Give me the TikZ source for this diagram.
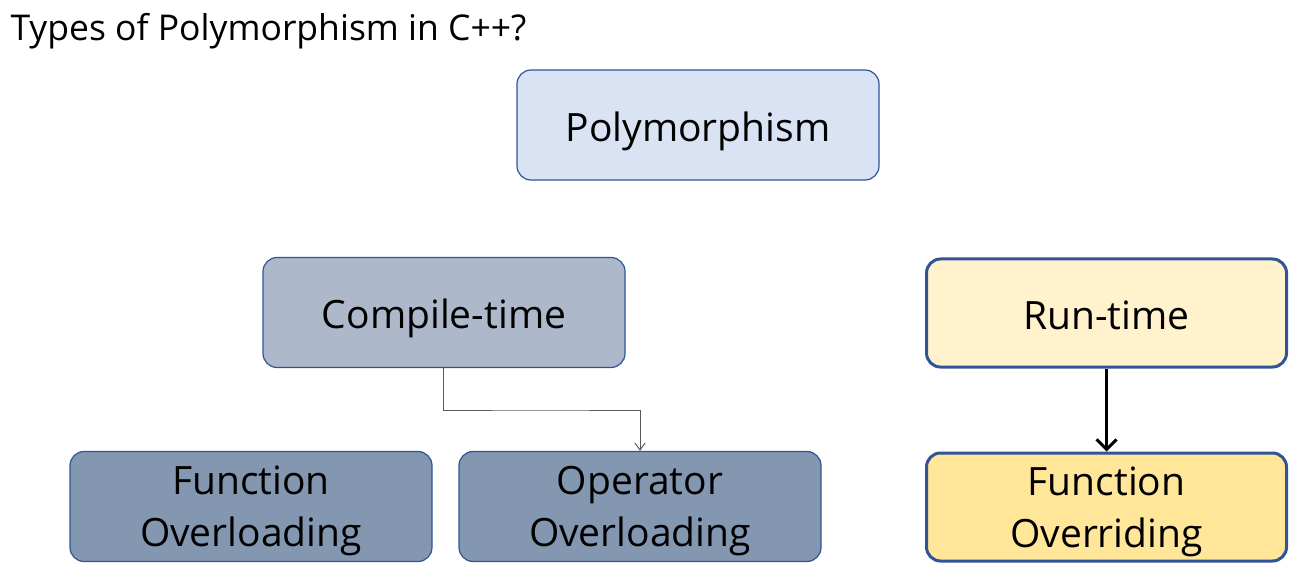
\documentclass[tikz,border=0pt]{standalone}
\usepackage{fontspec}
\setmainfont{Open Sans}
\usetikzlibrary{arrows.meta}
\definecolor{bord}{HTML}{2F5597}
\definecolor{fpoly}{HTML}{DAE3F3}
\definecolor{fcomp}{HTML}{ADB9CA}
\definecolor{fleaf}{HTML}{8497B0}
\definecolor{frun}{HTML}{FFF2CC}
\definecolor{fover}{HTML}{FFE699}
\newcommand\dn[2][12pt]{\raisebox{0pt}[\dimexpr\height+#1\relax][\depth]{#2}}
\newcommand\dntwo[2][10pt]{\raisebox{-#1}[0pt][0pt]{\begin{tabular}{@{}c@{}}#2\end{tabular}}}
\begin{document}
\begin{tikzpicture}[x=1pt,y=-1pt,
  boxbase/.style={draw=bord,rounded corners=14pt,minimum width=362pt,minimum height=110pt,
    font=\fontsize{39}{52}\selectfont,inner sep=0pt},
  thinbox/.style={boxbase,line width=1.2pt},
  thickbox/.style={boxbase,line width=3pt,minimum width=360pt,minimum height=108pt}]
\useasboundingbox (0,0) rectangle (1311,585);
\node[anchor=west,font=\fontsize{35.5}{40}\selectfont] (title) at (7,31) {Types of Polymorphism in C++?};
\node[thinbox,fill=fpoly] (poly) at (698,125) {\dn{Polymorphism}};
\node[thinbox,fill=fcomp] (comp) at (444,312.5) {\dn{Compile-time}};
\node[thickbox,fill=frun] (run) at (1106.5,313) {\dn[4pt]{Run-time}};
\node[thinbox,fill=fleaf] (fol) at (251,506.5) {\dntwo{Function\\Overloading}};
\node[thinbox,fill=fleaf] (ool) at (640,506.5) {\dntwo{Operator\\Overloading}};
\node[thickbox,fill=fover] (fov) at (1106.5,507) {\dntwo{Function\\Overriding}};
\coordinate (c1) at (comp.south -| 443,0);
\draw[gray!70!black,line width=1pt,-{Straight Barb[length=7pt,width=10pt]}] (c1) |- (540,410) -| (ool.north);
\draw[black,line width=3pt,-{Straight Barb[length=10pt,width=20pt,line width=3pt]}] (run.south) -- (fov.north);
\end{tikzpicture}
\end{document}
